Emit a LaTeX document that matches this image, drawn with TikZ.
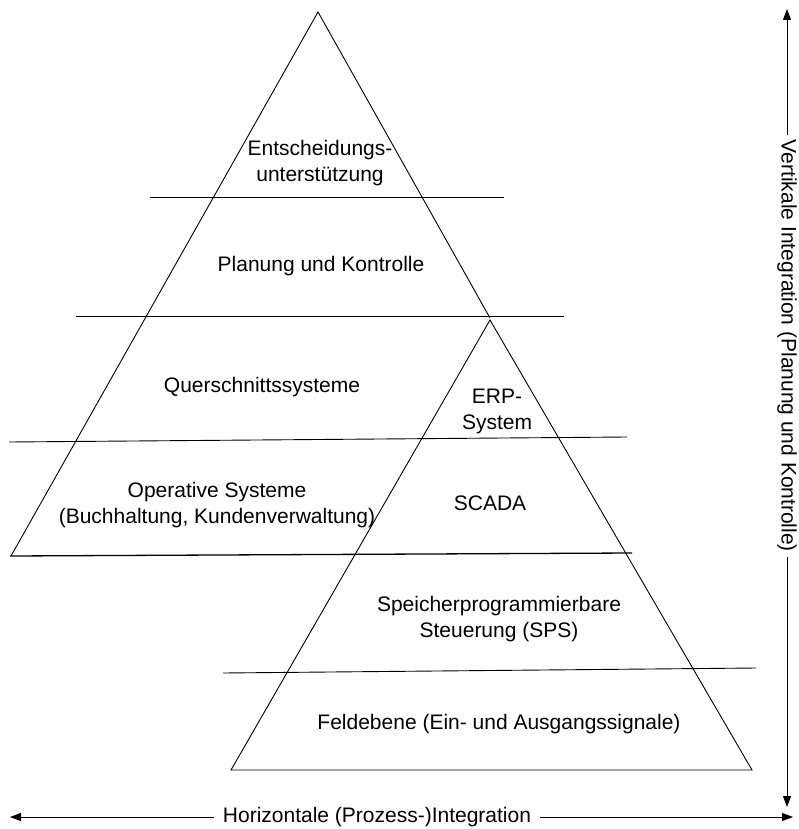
\documentclass[tikz,border=0pt]{standalone}
\usepackage{fontspec}
\setmainfont{Liberation Sans}
\usetikzlibrary{arrows.meta}
\begin{document}
\begin{tikzpicture}[x=1pt,y=-1pt,
  lbl/.style={align=center,font=\fontsize{21}{26}\selectfont,inner sep=0pt},
  edge/.style={line width=0.9pt,line join=miter},
  arr/.style={line width=0.9pt,-{Triangle[length=11pt,width=8pt]}}]
\useasboundingbox (0,0) rectangle (799,829);
% big pyramid
\coordinate (A) at (318,12);
\coordinate (BL) at (11,556);
\coordinate (BR) at (490,318);
\draw[edge] (BL) -- (A) -- (BR);
% small pyramid
\coordinate (S) at (490,320);
\coordinate (SR) at (752,770);
\coordinate (SL) at (231,770);
\draw[edge] (S) -- (SR) -- (SL) -- cycle;
% horizontal layer lines
\coordinate (l1a) at (150,197); \coordinate (l1b) at (504,197);
\coordinate (l2a) at (76,316);  \coordinate (l2b) at (564,316);
\coordinate (l3a) at (9,442);   \coordinate (l3b) at (627,437);
\coordinate (l4a) at (10,556);  \coordinate (l4b) at (632,553);
\coordinate (l5a) at (223,673); \coordinate (l5b) at (756,668);
\draw[edge] (l1a) -- (l1b);
\draw[edge] (l2a) -- (l2b);
\draw[edge] (l3a) -- (l3b);
\draw[edge,line width=1.3pt] (l4a) -- (l4b);
\draw[edge] (l5a) -- (l5b);
% labels
\node[lbl] (ent) at (320,163) {Entscheidungs-\\unterstützung};
\node[lbl] (plan) at (321,266) {Planung und Kontrolle};
\node[lbl] (quer) at (262,387) {Querschnittssysteme};
\node[lbl] (erp) at (497,411) {ERP-\\System};
\node[lbl] (oper) at (217,505) {Operative Systeme\\(Buchhaltung, Kundenverwaltung)};
\node[lbl] (scada) at (490,503) {SCADA};
\node[lbl] (sps) at (499,619) {Speicherprogrammierbare\\Steuerung (SPS)};
\node[lbl] (feld) at (499,724) {Feldebene (Ein- und Ausgangssignale)};
% axes
\node[lbl,inner xsep=9pt] (hor) at (377,817) {Horizontale (Prozess-)Integration};
\coordinate (hl) at (10,817);
\coordinate (hr) at (793,817);
\draw[arr] (hor) -- (hl);
\draw[arr] (hor) -- (hr);
\node[lbl,rotate=-90,inner xsep=5pt] (ver) at (787,346) {Vertikale Integration (Planung und Kontrolle)};
\coordinate (vt) at (787,9);
\coordinate (vb) at (787,807);
\draw[arr] (ver) -- (vt);
\draw[arr] (ver) -- (vb);
\end{tikzpicture}
\end{document}
